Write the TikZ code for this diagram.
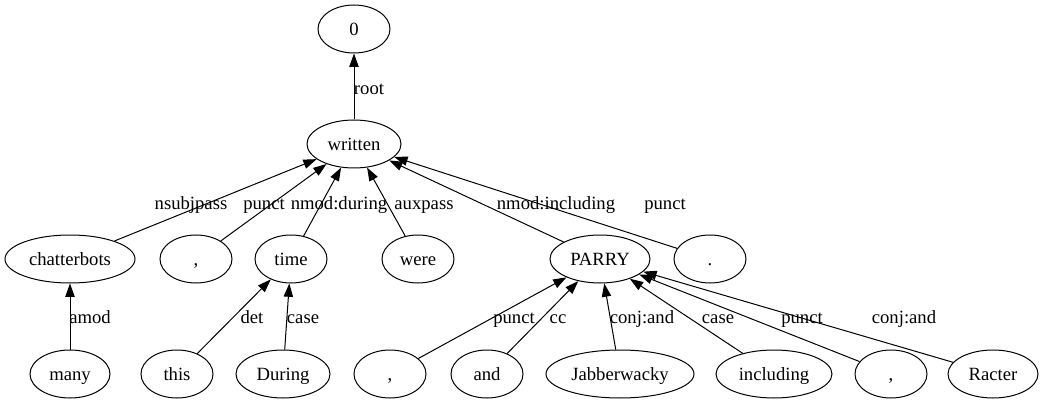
\documentclass[tikz,border=0pt]{standalone}
\usepackage{fontspec}
\setmainfont{Liberation Serif}
\usetikzlibrary{shapes.geometric,arrows.meta}
\begin{document}
\begin{tikzpicture}[x=0.75pt,y=-0.75pt,
  tok/.style={draw,ellipse,line width=0.75pt,inner sep=0pt,minimum height=48*0.75pt,minimum width=72*0.75pt,font=\fontsize{14}{16}\selectfont,text height=9.6pt,text depth=0.4pt},
  dep/.style={line width=0.75pt,-{Triangle[length=10pt,width=7pt]},shorten >=0pt},
  lab/.style={font=\fontsize{14}{16}\selectfont,inner sep=0pt,text height=9.6pt,text depth=0.4pt}]
\useasboundingbox (0,0) rectangle (1051,403);
% nodes
\node[tok] (n0) at (354,29) {0};
\node[tok,minimum width=94*0.75pt] (written) at (354,144) {written};
\node[tok,minimum width=130*0.75pt] (chatterbots) at (70,259) {chatterbots};
\node[tok] (comma1) at (196,259) {,};
\node[tok] (time) at (291,259) {time};
\node[tok] (were) at (418,259) {were};
\node[tok,minimum width=100*0.75pt] (parry) at (600,259) {PARRY};
\node[tok] (period) at (710,259) {.};
\node[tok,minimum width=80*0.75pt] (many) at (70,374) {many};
\node[tok] (this) at (177,374) {this};
\node[tok,minimum width=94*0.75pt] (during) at (283,374) {During};
\node[tok] (comma2) at (390,374) {,};
\node[tok] (and) at (487,374) {and};
\node[tok,minimum width=148*0.75pt] (jabber) at (620,374) {Jabberwacky};
\node[tok,minimum width=116*0.75pt] (including) at (774,374) {including};
\node[tok] (comma3) at (891,374) {,};
\node[tok,minimum width=90*0.75pt] (racter) at (993,374) {Racter};
% edges
\draw[dep] (written) -- (n0);
\draw[dep] (chatterbots) -- (written);
\draw[dep] (comma1) -- (written);
\draw[dep] (time) -- (written);
\draw[dep] (were) -- (written);
\draw[dep] (parry) -- (written);
\draw[dep] (period) -- (written);
\draw[dep] (many) -- (chatterbots);
\draw[dep] (this) -- (time);
\draw[dep] (during) -- (time);
\draw[dep] (comma2) -- (parry);
\draw[dep] (and) -- (parry);
\draw[dep] (jabber) -- (parry);
\draw[dep] (including) -- (parry);
\draw[dep] (comma3) -- (parry);
\draw[dep] (racter) -- (parry);
% labels
\node[lab] (lroot) at (369,88) {root};
\node[lab] (l1) at (191,203) {nsubjpass};
\node[lab] (l2) at (264,203) {punct};
\node[lab] (l3) at (339,203) {nmod:during};
\node[lab] (l4) at (424,203) {auxpass};
\node[lab] (l5) at (556,203) {nmod:including};
\node[lab] (l6) at (665,203) {punct};
\node[lab] (l7) at (90,317) {amod};
\node[lab] (l8) at (252,317) {det};
\node[lab] (l9) at (303,317) {case};
\node[lab] (l10) at (514,317) {punct};
\node[lab] (l11) at (558,317) {cc};
\node[lab] (l12) at (642,317) {conj:and};
\node[lab] (l13) at (718,317) {case};
\node[lab] (l14) at (802,317) {punct};
\node[lab] (l15) at (904,317) {conj:and};
\end{tikzpicture}
\end{document}
